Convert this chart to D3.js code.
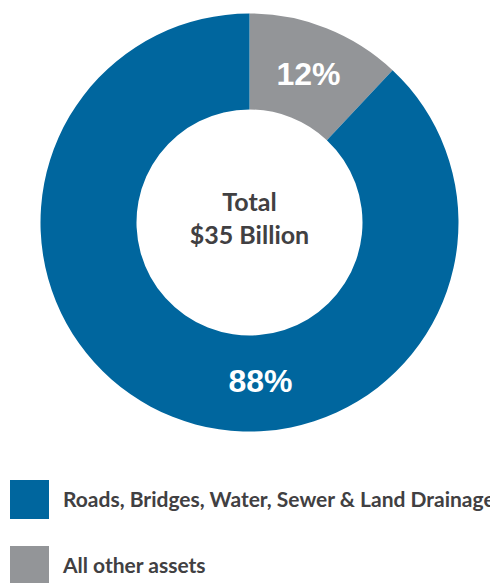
<!DOCTYPE html>
<html>
<head>
<meta charset="utf-8">
<script src="https://cdn.jsdelivr.net/npm/d3@7"></script>
<style>
  html, body { margin: 0; padding: 0; background: #ffffff; overflow: hidden; }
  svg { display: block; }
</style>
</head>
<body>
<svg id="chart" width="490" height="583"></svg>
<script>
// ---- data ----
const categories = ["All other assets", "Roads, Bridges, Water, Sewer & Land Drainage"];
const values = [12, 88];
const valueLabels = ["12%", "88%"];
const centerLines = ["Total", "$35 Billion"];
const legendOrder = ["Roads, Bridges, Water, Sewer & Land Drainage", "All other assets"];

// ---- styles ----
const colors = {
  "All other assets": "#939598",
  "Roads, Bridges, Water, Sewer & Land Drainage": "#00669e"
};
const textColor = "#414042";
const cx = 249.5, cy = 222.5;
const outerR = 209, innerR = 113;

const svg = d3.select("#chart");

const pie = d3.pie().sort(null).value(d => d.value);
const arcs = pie(categories.map((c, i) => ({ cat: c, value: values[i], label: valueLabels[i] })));
const arc = d3.arc().innerRadius(innerR).outerRadius(outerR);

const g = svg.append("g").attr("transform", `translate(${cx},${cy})`);

g.selectAll("path.slice")
  .data(arcs)
  .join("path")
  .attr("class", "slice")
  .attr("d", arc)
  .attr("fill", d => colors[d.data.cat]);

// label placement: centroid of a thin arc; the big slice label sits near the bottom
const labelArc = d3.arc();
const labelAngle = d => (d.endAngle - d.startAngle) > Math.PI ? Math.PI * 0.978 : (d.startAngle + d.endAngle) / 2;
const labelRadius = d => (d.endAngle - d.startAngle) > Math.PI ? 158 : 160;

g.selectAll("text.pct")
  .data(arcs)
  .join("text")
  .attr("class", "pct")
  .attr("transform", d => {
    const a = labelAngle(d), r = labelRadius(d);
    const c = labelArc.centroid({ innerRadius: r, outerRadius: r, startAngle: a, endAngle: a });
    return `translate(${c[0]},${c[1]})`;
  })
  .attr("text-anchor", "middle")
  .attr("dy", "0.36em")
  .attr("font-family", "'Liberation Sans', Arial, sans-serif")
  .attr("font-weight", "bold")
  .attr("font-size", 32)
  .attr("fill", "#ffffff")
  .text(d => d.data.label);

// center text
g.selectAll("text.center")
  .data(centerLines)
  .join("text")
  .attr("class", "center")
  .attr("x", 0)
  .attr("y", (d, i) => -11.5 + i * 33)
  .attr("text-anchor", "middle")
  .attr("font-family", "Lato, 'Open Sans', sans-serif")
  .attr("font-weight", "bold")
  .attr("font-size", 25)
  .attr("fill", textColor)
  .text(d => d);

// legend
const legendY = d3.scalePoint().domain(legendOrder).range([480, 546]);
const leg = svg.append("g");
const items = leg.selectAll("g.item")
  .data(legendOrder)
  .join("g")
  .attr("class", "item")
  .attr("transform", d => `translate(10,${legendY(d)})`);

items.append("rect")
  .attr("width", 39)
  .attr("height", 39)
  .attr("fill", d => colors[d]);

items.append("text")
  .attr("x", 53)
  .attr("y", 27)
  .attr("font-family", "Lato, 'Open Sans', sans-serif")
  .attr("font-weight", "bold")
  .attr("font-size", 21)
  .attr("fill", textColor)
  .text(d => d);
</script>
</body>
</html>
